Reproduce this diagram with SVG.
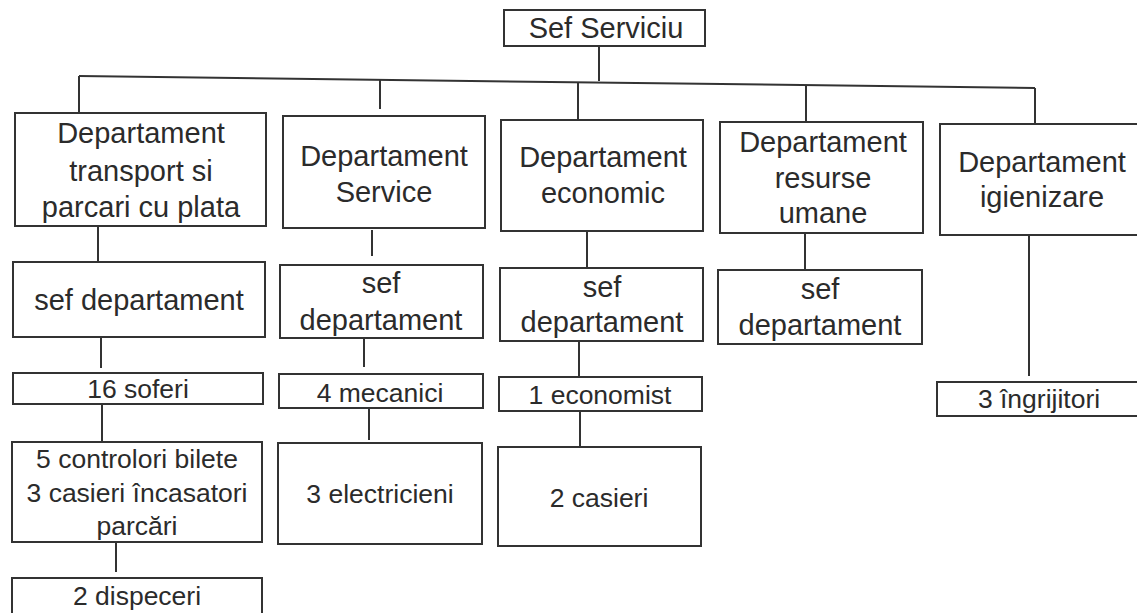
<svg xmlns="http://www.w3.org/2000/svg" width="1137" height="613" viewBox="0 0 1137 613">
<style>
.box{fill:#fff;stroke:#333;stroke-width:2}
.ln{fill:none;stroke:#333;stroke-width:2}
text{font-family:"Liberation Sans",Arial,sans-serif;fill:#2b2b2b;text-anchor:middle}
.t{font-size:29px}
.s{font-size:26.5px}
</style>
<rect width="1137" height="613" fill="#fff"/>
<g id="connectors">
<line class="ln" x1="599" y1="46" x2="599" y2="81"/>
<line class="ln" x1="79" y1="76" x2="1035" y2="88"/>
<line class="ln" x1="79" y1="76" x2="79" y2="113"/>
<line class="ln" x1="380" y1="80" x2="380" y2="109"/>
<line class="ln" x1="578" y1="82" x2="578" y2="119"/>
<line class="ln" x1="806" y1="86" x2="806" y2="122"/>
<line class="ln" x1="1035" y1="88" x2="1035" y2="124"/>
<line class="ln" x1="98" y1="226" x2="98" y2="262"/>
<line class="ln" x1="372" y1="230" x2="372" y2="256"/>
<line class="ln" x1="587" y1="231" x2="587" y2="268"/>
<line class="ln" x1="805" y1="233" x2="805" y2="270"/>
<line class="ln" x1="101" y1="337" x2="101" y2="368"/>
<line class="ln" x1="364" y1="338" x2="364" y2="367"/>
<line class="ln" x1="579" y1="341" x2="579" y2="377"/>
<line class="ln" x1="1029" y1="235" x2="1029" y2="376"/>
<line class="ln" x1="102" y1="404" x2="102" y2="441"/>
<line class="ln" x1="369" y1="408" x2="369" y2="440"/>
<line class="ln" x1="580" y1="411" x2="580" y2="447"/>
<line class="ln" x1="116" y1="542" x2="116" y2="572"/>
</g>
<g id="sef-serviciu">
<rect class="box" x="504" y="10" width="201" height="36"/>
<text class="t" x="606" y="38">Sef Serviciu</text>
</g>
<g id="dept-transport">
<rect class="box" x="15" y="113" width="251" height="113"/>
<text class="t" x="141" y="143">Departament</text>
<text class="t" x="141" y="181">transport si</text>
<text class="t" x="141" y="217">parcari cu plata</text>
</g>
<g id="dept-service">
<rect class="box" x="283" y="116" width="202" height="112"/>
<text class="t" x="384" y="166">Departament</text>
<text class="t" x="384" y="202">Service</text>
</g>
<g id="dept-economic">
<rect class="box" x="501" y="120" width="202" height="111"/>
<text class="t" x="603" y="167">Departament</text>
<text class="t" x="603" y="203">economic</text>
</g>
<g id="dept-resurse">
<rect class="box" x="720" y="122" width="203" height="111"/>
<text class="t" x="823" y="152">Departament</text>
<text class="t" x="823" y="188">resurse</text>
<text class="t" x="823" y="223">umane</text>
</g>
<g id="dept-igienizare">
<rect class="box" x="940" y="124" width="215" height="111"/>
<text class="t" x="1042" y="172">Departament</text>
<text class="t" x="1042" y="207">igienizare</text>
</g>
<g id="sef-transport">
<rect class="box" x="13" y="262" width="252" height="75"/>
<text class="t" x="139" y="310">sef departament</text>
</g>
<g id="sef-service">
<rect class="box" x="280" y="265" width="203" height="73"/>
<text class="t" x="381" y="293">sef</text>
<text class="t" x="381" y="330">departament</text>
</g>
<g id="sef-economic">
<rect class="box" x="500" y="268" width="203" height="73"/>
<text class="t" x="602" y="297">sef</text>
<text class="t" x="602" y="332">departament</text>
</g>
<g id="sef-resurse">
<rect class="box" x="718" y="270" width="204" height="74"/>
<text class="t" x="820" y="299">sef</text>
<text class="t" x="820" y="335">departament</text>
</g>
<g id="soferi">
<rect class="box" x="13" y="373" width="250" height="31"/>
<text class="s" x="138" y="398">16 soferi</text>
</g>
<g id="mecanici">
<rect class="box" x="279" y="374" width="204" height="34"/>
<text class="s" x="380" y="402">4 mecanici</text>
</g>
<g id="economist">
<rect class="box" x="499" y="377" width="203" height="34"/>
<text class="s" x="600" y="404">1 economist</text>
</g>
<g id="ingrijitori">
<rect class="box" x="937" y="382" width="220" height="34"/>
<text class="s" x="1039" y="408">3 îngrijitori</text>
</g>
<g id="controlori">
<rect class="box" x="12" y="442" width="250" height="100"/>
<text class="s" x="137" y="468">5 controlori bilete</text>
<text class="s" x="137" y="502">3 casieri încasatori</text>
<text class="s" x="137" y="535">parcări</text>
</g>
<g id="electricieni">
<rect class="box" x="278" y="443" width="204" height="101"/>
<text class="s" x="380" y="503">3 electricieni</text>
</g>
<g id="casieri">
<rect class="box" x="498" y="447" width="203" height="99"/>
<text class="s" x="599" y="507">2 casieri</text>
</g>
<g id="dispeceri">
<rect class="box" x="12" y="578" width="250" height="50"/>
<text class="s" x="137" y="605">2 dispeceri</text>
</g>
</svg>
